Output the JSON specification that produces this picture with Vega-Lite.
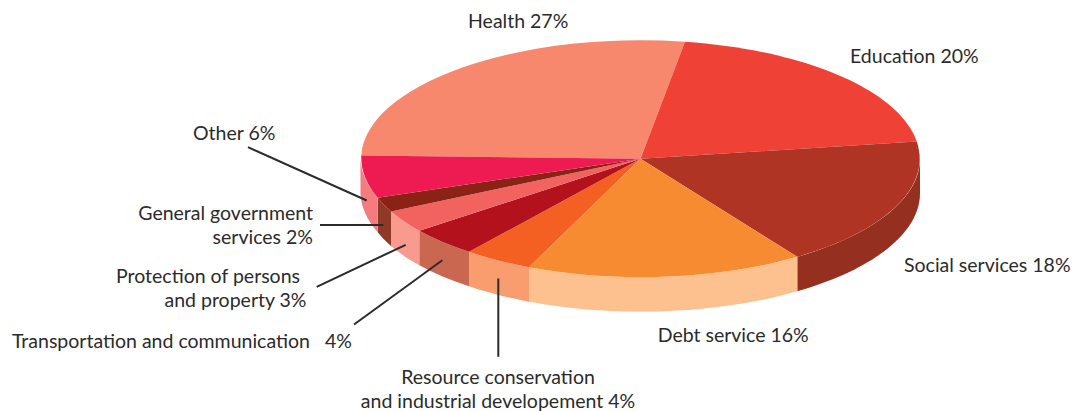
{"$schema":"https://vega.github.io/schema/vega-lite/v6.json","width":1072,"height":411,"autosize":{"type":"fit","contains":"padding"},"padding":0,"background":"white","view":{"stroke":null},"config":{"text":{"font":"Lato","fontSize":19.5,"color":"#2b2b2b","lineBreak":"\n","lineHeight":24,"baseline":"alphabetic"}},
"data":{"values":[
{"category":"Health","share":27,"label":"Health 27%"},
{"category":"Education","share":20,"label":"Education 20%"},
{"category":"Social services","share":18,"label":"Social services 18%"},
{"category":"Debt service","share":16,"label":"Debt service 16%"},
{"category":"Resource conservation and industrial developement","share":4,"label":"Resource conservation\nand industrial developement 4%"},
{"category":"Transportation and communication","share":4,"label":"Transportation and communication\u00a0\u00a0\u00a04%"},
{"category":"Protection of persons and property","share":3,"label":"Protection of persons","label2":"and property 3%"},
{"category":"General government services","share":2,"label":"General government\nservices 2%"},
{"category":"Other","share":6,"label":"Other 6%"}]},
"resolve":{"scale":{"shape":"independent","fill":"independent"}},
"layer":[
{"transform":[{"filter":"datum.category!=='Health'&&datum.category!=='Education'"}],
"mark":{"type":"point","filled":true,"size":4,"opacity":1},
"encoding":{"shape":{"field":"category","type":"nominal","legend":null,"scale":{"domain":["Social services","Debt service","Resource conservation and industrial developement","Transportation and communication","Protection of persons and property","General government services","Other"],"range":[
"M 384 -46.3 A 279.5 118.5 0 0 1 261.3 51.8 L 261.3 86.3 A 279.5 118.5 0 0 0 384 -11.8 Z",
"M 261.3 51.8 A 279.5 118.5 0 0 1 -7 62.2 L -7 96.7 A 279.5 118.5 0 0 0 261.3 86.3 Z",
"M -7 62.2 A 279.5 118.5 0 0 1 -67 46.8 L -67 81.3 A 279.5 118.5 0 0 0 -7 96.7 Z",
"M -67 46.8 A 279.5 118.5 0 0 1 -116.7 25.8 L -116.7 60.3 A 279.5 118.5 0 0 0 -67 81.3 Z",
"M -116.7 25.8 A 279.5 118.5 0 0 1 -145 6.5 L -145 41 A 279.5 118.5 0 0 0 -116.7 60.3 Z",
"M -145 6.5 A 279.5 118.5 0 0 1 -158.3 -7.2 L -158.3 27.3 A 279.5 118.5 0 0 0 -145 41 Z",
"M -158.3 -7.2 A 279.5 118.5 0 0 1 -175.5 -46.3 L -175.5 -11.8 A 279.5 118.5 0 0 0 -158.3 27.3 Z"]}},
"fill":{"field":"category","type":"nominal","legend":null,"scale":{"domain":["Social services","Debt service","Resource conservation and industrial developement","Transportation and communication","Protection of persons and property","General government services","Other"],"range":["#952F20","#FDC190","#F99D6E","#C96751","#F89B8E","#8E3A26","#F47C7F"]}}}},
{"mark":{"type":"point","filled":true,"size":4,"opacity":1},
"encoding":{"shape":{"field":"category","type":"nominal","legend":null,"scale":{"domain":["Health","Education","Social services","Debt service","Resource conservation and industrial developement","Transportation and communication","Protection of persons and property","General government services","Other"],"range":[
"M 104.5 -46.3 L -174.7 -49.5 A 279.5 118.5 0 0 1 149 -163.2 Z",
"M 104.5 -46.3 L 149 -163.2 A 279.5 118.5 0 0 1 380.7 -63.5 Z",
"M 104.5 -46.3 L 380.7 -63.5 A 279.5 118.5 0 0 1 261.3 51.8 Z",
"M 104.5 -46.3 L 261.3 51.8 A 279.5 118.5 0 0 1 -7 62.2 Z",
"M 104.5 -46.3 L -7 62.2 A 279.5 118.5 0 0 1 -67 46.8 Z",
"M 104.5 -46.3 L -67 46.8 A 279.5 118.5 0 0 1 -116.7 25.8 Z",
"M 104.5 -46.3 L -116.7 25.8 A 279.5 118.5 0 0 1 -145 6.5 Z",
"M 104.5 -46.3 L -145 6.5 A 279.5 118.5 0 0 1 -158.3 -7.2 Z",
"M 104.5 -46.3 L -158.3 -7.2 A 279.5 118.5 0 0 1 -174.7 -49.5 Z"]}},
"fill":{"field":"category","type":"nominal","legend":null,"scale":{"domain":["Health","Education","Social services","Debt service","Resource conservation and industrial developement","Transportation and communication","Protection of persons and property","General government services","Other"],"range":["#F7876D","#EF4136","#B03424","#F78B32","#F36022","#B3121D","#F2635F","#8A2316","#ED1B51"]}}}},
{"transform":[{"filter":"datum.share<=6"}],
"mark":{"type":"point","filled":false,"size":4,"opacity":1,"stroke":"#2b2b2b","strokeWidth":2},
"encoding":{"shape":{"field":"category","type":"nominal","legend":null,"scale":{"domain":["Resource conservation and industrial developement","Transportation and communication","Protection of persons and property","General government services","Other"],"range":[
"M -37.7 73.5 L -37.7 151.8",
"M -182 119.5 L -93.7 55.2",
"M -219.3 81.8 L -130.3 39.8",
"M -216 20 L -152.7 20",
"M -288 -57.8 L -169.3 -4.5"]}}}},
{"transform":[{"filter":"datum.category==='Health'"}],"mark":{"type":"text","align":"left","dx":-68,"dy":-177.5},"encoding":{"text":{"field":"label"}}},
{"transform":[{"filter":"datum.category==='Education'"}],"mark":{"type":"text","align":"left","dx":314,"dy":-142.5},"encoding":{"text":{"field":"label"}}},
{"transform":[{"filter":"datum.category==='Social services'"}],"mark":{"type":"text","align":"left","dx":368,"dy":67.2},"encoding":{"text":{"field":"label"}}},
{"transform":[{"filter":"datum.category==='Debt service'"}],"mark":{"type":"text","align":"left","dx":121.7,"dy":137.2},"encoding":{"text":{"field":"label"}}},
{"transform":[{"filter":"datum.share===4&&datum.category[0]==='R'"}],"mark":{"type":"text","align":"center","dx":-38,"dy":178.5},"encoding":{"text":{"field":"label"}}},
{"transform":[{"filter":"datum.share===4&&datum.category[0]==='T'"}],"mark":{"type":"text","align":"left","dx":-524,"dy":142.5},"encoding":{"text":{"field":"label"}}},
{"transform":[{"filter":"datum.share===3"}],"mark":{"type":"text","align":"right","dx":-236,"dy":77.5},"encoding":{"text":{"field":"label"}}},
{"transform":[{"filter":"datum.share===3"}],"mark":{"type":"text","align":"right","dx":-229.5,"dy":101.5},"encoding":{"text":{"field":"label2"}}},
{"transform":[{"filter":"datum.share===2"}],"mark":{"type":"text","align":"right","dx":-223,"dy":14.5},"encoding":{"text":{"field":"label"}}},
{"transform":[{"filter":"datum.category==='Other'"}],"mark":{"type":"text","align":"left","dx":-343,"dy":-65.5},"encoding":{"text":{"field":"label"}}}
]}
